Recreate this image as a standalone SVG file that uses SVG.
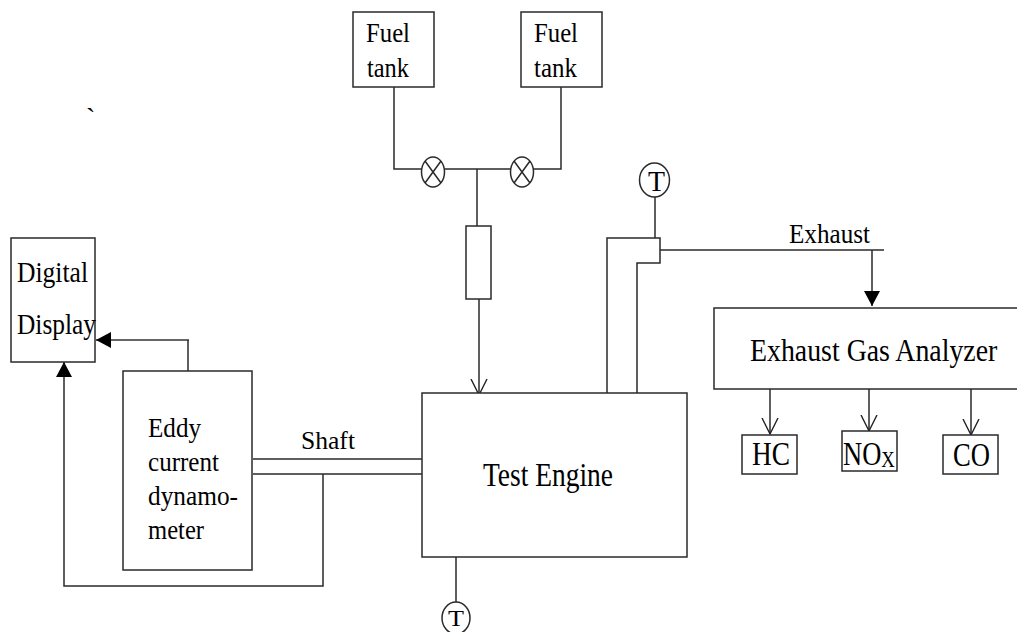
<svg xmlns="http://www.w3.org/2000/svg" width="1017" height="632" viewBox="0 0 1017 632">
<defs>
<marker id="solid" markerUnits="userSpaceOnUse" markerWidth="16" markerHeight="18" refX="15" refY="8" orient="auto"><path d="M0 0L15 8L0 16Z" style="fill:#000;stroke:none"/></marker>
<marker id="open" markerUnits="userSpaceOnUse" markerWidth="18" markerHeight="20" refX="16" refY="9" orient="auto"><path d="M0 1L16 9L0 17" style="fill:none;stroke:#222;stroke-width:1.4"/></marker>
</defs>
<style>
rect,ellipse{fill:#fff;stroke:#2a2a2a;stroke-width:1.5}
path{stroke:#2a2a2a;stroke-width:1.5;fill:none}
text{font-family:"Liberation Serif",serif;font-size:28px;fill:#000}
</style>
<rect width="1017" height="632" style="fill:#fff;stroke:none"/>
<g id="connectors">
<path d="M394 87V169H421M445 169H511M533 169H561V87"/>
<path d="M477 169V226"/>
<path d="M479 299V395" marker-end="url(#open)"/>
<path d="M189 340H96" style="stroke:#666;stroke-width:2" marker-end="url(#solid)"/>
<path d="M188 340V371"/>
<path d="M253 459H422M253 474H422"/>
<path d="M323 474V586H64V362" marker-end="url(#solid)"/>
<path d="M456 557V602"/>
<path d="M607 393V238H660V263H637V393"/>
<path d="M655 197V238"/>
<path d="M660 250H884"/>
<path d="M872 250V306" marker-end="url(#solid)"/>
<path d="M770 389V434" marker-end="url(#open)"/>
<path d="M869 386V431" marker-end="url(#open)"/>
<path d="M971 389V435" marker-end="url(#open)"/>
</g>
<g id="fuel-tank-1"><rect x="353" y="12" width="81" height="75"/><text x="366" y="42" textLength="44" lengthAdjust="spacingAndGlyphs">Fuel</text><text x="367" y="77" textLength="42" lengthAdjust="spacingAndGlyphs">tank</text></g>
<g id="fuel-tank-2"><rect x="521" y="12" width="81" height="75"/><text x="534" y="42" textLength="44" lengthAdjust="spacingAndGlyphs">Fuel</text><text x="534" y="77" textLength="43" lengthAdjust="spacingAndGlyphs">tank</text></g>
<g id="valve-1"><ellipse cx="433" cy="172" rx="11.5" ry="15"/><path d="M425 161L441 183M441 161L425 183"/></g>
<g id="valve-2"><ellipse cx="522" cy="172" rx="11.5" ry="15"/><path d="M514 161L530 183M530 161L514 183"/></g>
<g id="filter"><rect x="466" y="226" width="25" height="73"/></g>
<g id="temp-top"><ellipse cx="654.5" cy="180" rx="15" ry="17"/><text x="648" y="191" style="font-size:30px" textLength="17" lengthAdjust="spacingAndGlyphs">T</text></g>
<g id="temp-bottom"><ellipse cx="456" cy="618" rx="14" ry="16"/><text x="448" y="626" style="font-size:24px" textLength="16" lengthAdjust="spacingAndGlyphs">T</text></g>
<g id="digital-display"><rect x="11" y="238" width="84" height="124"/><text x="17" y="282" style="font-size:29px" textLength="71" lengthAdjust="spacingAndGlyphs">Digital</text><text x="17" y="334" style="font-size:29px" textLength="79" lengthAdjust="spacingAndGlyphs">Display</text></g>
<g id="dynamometer"><rect x="123" y="371" width="129" height="199"/><text x="148" y="437" textLength="53" lengthAdjust="spacingAndGlyphs">Eddy</text><text x="148" y="471" textLength="71" lengthAdjust="spacingAndGlyphs">current</text><text x="148" y="505" textLength="90" lengthAdjust="spacingAndGlyphs">dynamo-</text><text x="148" y="539" textLength="56" lengthAdjust="spacingAndGlyphs">meter</text></g>
<g id="test-engine"><rect x="422" y="393" width="265" height="164"/><text x="483" y="486" style="font-size:34px" textLength="130" lengthAdjust="spacingAndGlyphs">Test Engine</text></g>
<g id="analyzer"><rect x="714" y="308" width="310" height="81"/><text transform="translate(750 361) scale(.87 1)" style="font-size:32px">Exhaust Gas Analyzer</text></g>
<g id="hc"><rect x="742" y="435" width="55" height="39"/><text x="752" y="465" style="font-size:34px" textLength="38" lengthAdjust="spacingAndGlyphs">HC</text></g>
<g id="nox"><rect x="842" y="431" width="55" height="40"/><text transform="translate(843 465) scale(.78 1)" style="font-size:34px">NO<tspan dy="2" style="font-size:24px">X</tspan></text></g>
<g id="co"><rect x="943" y="435" width="55" height="39"/><text x="953" y="466" style="font-size:34px" textLength="37" lengthAdjust="spacingAndGlyphs">CO</text></g>
<g id="labels"><text x="301" y="449" style="font-size:26px" textLength="54" lengthAdjust="spacingAndGlyphs">Shaft</text><text x="789" y="243" style="font-size:27px" textLength="81" lengthAdjust="spacingAndGlyphs">Exhaust</text><text x="86" y="127">`</text></g>
</svg>
